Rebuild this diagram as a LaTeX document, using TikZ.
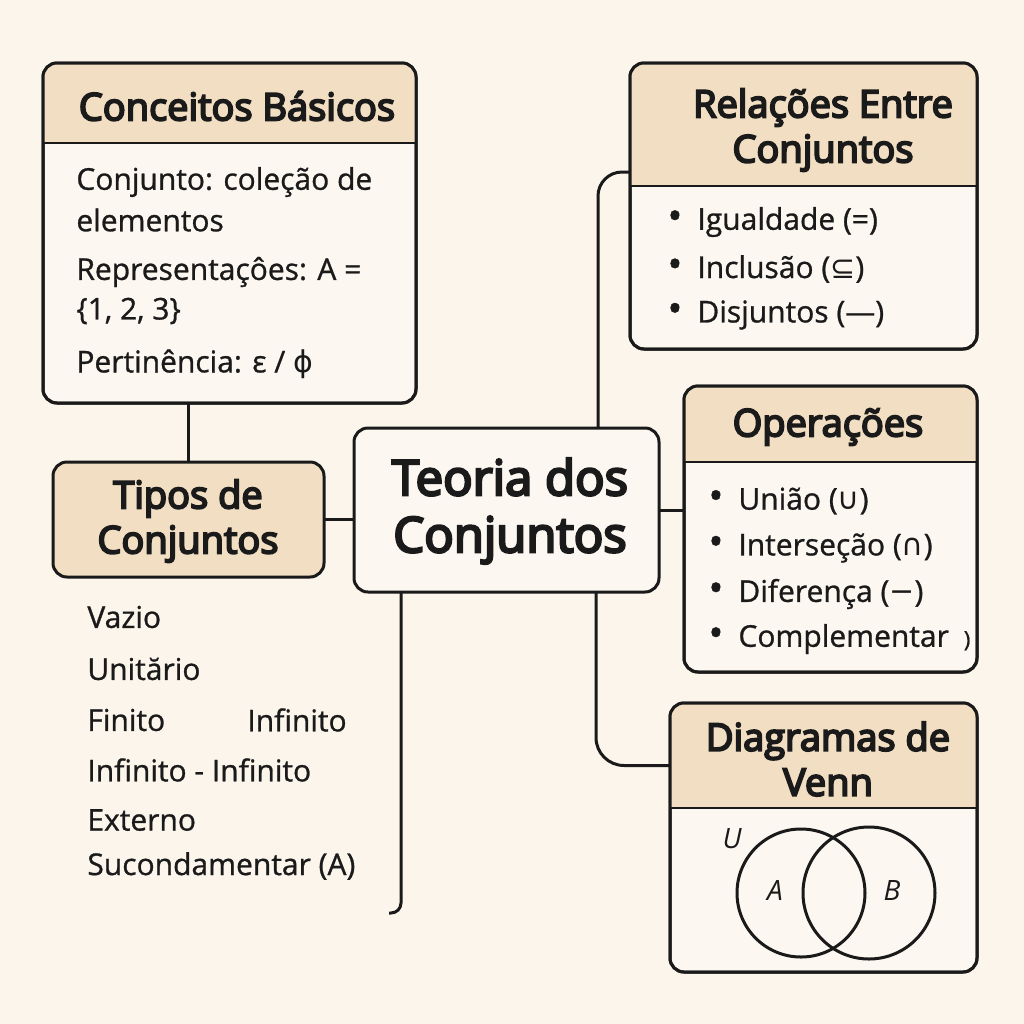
\documentclass[tikz,border=0pt]{standalone}
\usepackage{fontspec}
\setmainfont{Open Sans}[AutoFakeBold=5]
\newfontfamily\medf{Open Sans}[FakeBold=0.9]
\newfontfamily\symf{DejaVu Sans}
\usetikzlibrary{calc}
\definecolor{bg}{HTML}{FBF5EC}
\definecolor{hdr}{HTML}{F2DFC3}
\definecolor{boxfill}{HTML}{FCF7F0}
\definecolor{ink}{HTML}{1A1A1A}
\newcommand\hdrfill[2]{%
  \begin{scope}
    \clip[rounded corners=7pt] (#1.north west) rectangle (#1.south east);
    \fill[hdr] (#1.north west) rectangle ($(#1.north east)+(0,#2)$);
  \end{scope}
  \draw[ink,line width=1.3pt] ($(#1.north west)+(0,#2)$) -- ($(#1.north east)+(0,#2)$);
  \draw[ink,line width=1.5pt,rounded corners=7pt] (#1.north west) rectangle (#1.south east);
}
\newcommand\bul{{\fontsize{20}{19}\selectfont•}\enspace}
\begin{document}
\begin{tikzpicture}[x=0.5pt,y=-0.5pt,
  box/.style={draw=ink,line width=1.5pt,rounded corners=7pt,fill=boxfill,inner sep=0pt,outer sep=0pt,anchor=north west},
  conn/.style={draw=ink,line width=1.5pt},
  title/.style={font=\fontsize{19}{22.5}\selectfont\bfseries,text=ink,align=center,inner sep=0pt},
  bigtitle/.style={font=\fontsize{24.5}{28.5}\selectfont\bfseries,text=ink,align=center,inner sep=0pt},
  body/.style={font=\fontsize{15}{19}\selectfont\medf,text=ink,anchor=west,inner sep=0pt},
]
\fill[bg] (0,0) rectangle (1024,1024);
\useasboundingbox (0,0) rectangle (1024,1024);

% boxes
\node[box,minimum width=373*0.5pt,minimum height=340*0.5pt] (cb) at (43,63) {};
\hdrfill{cb}{80}
\node[box,fill=hdr,minimum width=271*0.5pt,minimum height=115*0.5pt] (tp) at (53,462) {};
\node[box,minimum width=305*0.5pt,minimum height=164*0.5pt] (ct) at (354,428) {};
\node[box,minimum width=347*0.5pt,minimum height=286*0.5pt] (rel) at (630,63) {};
\hdrfill{rel}{123}
\node[box,minimum width=293*0.5pt,minimum height=286*0.5pt] (op) at (684,386) {};
\hdrfill{op}{76}
\node[box,minimum width=307*0.5pt,minimum height=269*0.5pt] (vn) at (670,703) {};
\hdrfill{vn}{105}

% titles
\node[title] (cbt) at (237,106) {Conceitos Básicos};
\node[title] (tpt) at (188,521) {Tipos de\\Conjuntos};
\node[bigtitle] (ctt) at (510,511) {Teoria dos\\Conjuntos};
\node[title] (relt) at (823,130) {Relações Entre\\Conjuntos};
\node[title] (opt) at (828,427) {Operações};
\node[title] (vnt) at (828,759) {Diagramas de\\Venn};

% conceitos body
\node[body] (cb1) at (76,182) {Conjunto: coleção de};
\node[body] (cb2) at (76,220) {elementos};
\node[body] (cb3) at (76,272) {Representaçôes: A =};
\node[body] (cb4) at (76,311) {\{1, 2, 3\}};
\node[body] (cb5) at (76,364) {Pertinência: ε / {\symf ϕ}};

% relacoes items
\node[body] (r1) at (667,222) {\bul Igualdade (=)};
\node[body] (r2) at (667,269) {\bul Inclusão ({\symf ⊆})};
\node[body] (r3) at (667,315) {\bul Disjuntos (—)};

% operacoes items
\node[body] (o1) at (708,501) {\bul União ({\symf ∪})};
\node[body] (o2) at (708,548) {\bul Interseção ({\symf ∩})};
\node[body] (o3) at (708,594) {\bul Diferença ({\symf −})};
\node[body] (o4) at (708,639) {\bul Complementar\enspace{\fontsize{11}{11}\selectfont )}};

% tipos list
\node[body] (t1) at (87,617) {Vazio};
\node[body] (t2) at (87,669) {Unitărio};
\node[body] (t3) at (87,720) {Finito};
\node[body] (t3b) at (247,720) {Infinito};
\node[body] (t4) at (87,770) {Infinito - Infinito};
\node[body] (t5) at (87,820) {Externo};
\node[body] (t6) at (87,866) {Sucondamentar (A)};

% venn
\draw[ink,line width=1.5pt] (801,893) circle[radius=32pt];
\draw[ink,line width=1.5pt] (869,893) circle[radius=33pt];
\node[body,anchor=center,font=\fontsize{14}{14}\selectfont\itshape] (vu) at (732,839) {U};
\node[body,anchor=center,font=\fontsize{14}{14}\selectfont\itshape] (va) at (775,890) {A};
\node[body,anchor=center,font=\fontsize{14}{14}\selectfont\itshape] (vb) at (892,890) {B};

% connectors
\draw[conn] (tp.north) -- (tp.north |- cb.south);
\draw[conn] (tp.east) -- (tp.east -| ct.west);
\draw[conn] (ct.east) -- (ct.east -| op.west);
\draw[conn,rounded corners=12pt] ([xshift=-30.5pt]ct.north east) |- ([yshift=17pt]rel.west);
\draw[conn,rounded corners=14pt] ([xshift=-31.5pt]ct.south east) |- ([yshift=36pt]vn.west);
\coordinate (tail) at (389,913);
\draw[conn,rounded corners=5pt] ([xshift=23.5pt]ct.south west) |- (tail);
\end{tikzpicture}
\end{document}
